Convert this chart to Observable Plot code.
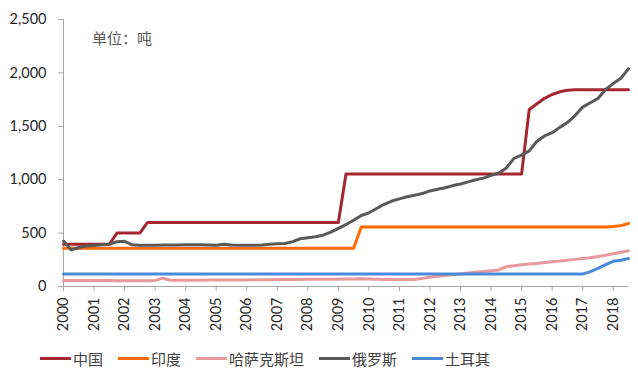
<!DOCTYPE html>
<html>
<head>
<meta charset="utf-8">
<script src="https://cdn.jsdelivr.net/npm/d3@7"></script>
<script src="https://cdn.jsdelivr.net/npm/@observablehq/plot@0.6"></script>
<style>
  body { margin: 0; background: #fff; width: 638px; height: 376px; position: relative; overflow: hidden; font-family: Lato, "Noto Sans CJK SC", sans-serif; }
  #chart { position: absolute; left: 0; top: 0; }
  #unit { position: absolute; left: 92px; top: 27px; font-family: "Noto Sans CJK SC", sans-serif; font-size: 15px; color: #595959; }
  #legend { position: absolute; left: 40px; top: 348px; display: flex; align-items: center; font-family: "Noto Sans CJK SC", sans-serif; font-size: 15px; color: #404040; }
  .item { display: flex; align-items: center; margin-right: 15px; }
  .sw { display: inline-block; width: 31px; height: 3px; margin-right: 2px; }
</style>
</head>
<body>
<div id="chart"></div>
<div id="unit">单位：吨</div>
<div id="legend"></div>
<script>
const quarters = [
  2000, 2000.25, 2000.5, 2000.75, 2001, 2001.25, 2001.5, 2001.75,
  2002, 2002.25, 2002.5, 2002.75, 2003, 2003.25, 2003.5, 2003.75,
  2004, 2004.25, 2004.5, 2004.75, 2005, 2005.25, 2005.5, 2005.75,
  2006, 2006.25, 2006.5, 2006.75, 2007, 2007.25, 2007.5, 2007.75,
  2008, 2008.25, 2008.5, 2008.75, 2009, 2009.25, 2009.5, 2009.75,
  2010, 2010.25, 2010.5, 2010.75, 2011, 2011.25, 2011.5, 2011.75,
  2012, 2012.25, 2012.5, 2012.75, 2013, 2013.25, 2013.5, 2013.75,
  2014, 2014.25, 2014.5, 2014.75, 2015, 2015.25, 2015.5, 2015.75,
  2016, 2016.25, 2016.5, 2016.75, 2017, 2017.25, 2017.5, 2017.75,
  2018, 2018.25, 2018.5
];
const countries = ["中国", "印度", "哈萨克斯坦", "俄罗斯", "土耳其"];
const colors = ["#A6262F", "#FF6A00", "#E8999B", "#595959", "#4A8AD8"];

const china = [
  395, 395, 395, 395, 395, 395, 395, 500,
  500, 500, 500, 600, 600, 600, 600, 600,
  600, 600, 600, 600, 600, 600, 600, 600,
  600, 600, 600, 600, 600, 600, 600, 600,
  600, 600, 600, 600, 600, 1054, 1054, 1054,
  1054, 1054, 1054, 1054, 1054, 1054, 1054, 1054,
  1054, 1054, 1054, 1054, 1054, 1054, 1054, 1054,
  1054, 1054, 1054, 1054, 1054, 1658, 1711, 1762,
  1798, 1823, 1838, 1843, 1843, 1843, 1843, 1843,
  1843, 1843, 1843
];
const india = [
  358, 358, 358, 358, 358, 358, 358, 358,
  358, 358, 358, 358, 358, 358, 358, 358,
  358, 358, 358, 358, 358, 358, 358, 358,
  358, 358, 358, 358, 358, 358, 358, 358,
  358, 358, 358, 358, 358, 358, 358, 558,
  558, 558, 558, 558, 558, 558, 558, 558,
  558, 558, 558, 558, 558, 558, 558, 558,
  558, 558, 558, 558, 558, 558, 558, 558,
  558, 558, 558, 558, 558, 558, 558, 558,
  562, 570, 590
];
const kazakhstan = [
  56, 56, 56, 56, 56, 56, 56, 55,
  55, 55, 55, 55, 56, 78, 58, 58,
  58, 59, 59, 60, 60, 61, 61, 62,
  62, 64, 64, 63, 65, 66, 66, 65,
  67, 67, 68, 68, 69, 70, 71, 72,
  70, 67, 65, 65, 64, 65, 66, 76,
  87, 95, 102, 110, 118, 126, 134, 140,
  148, 155, 186, 195, 203, 210, 216, 224,
  232, 238, 246, 254, 262, 270, 280, 292,
  306, 320, 335
];
const russia = [
  425, 343, 365, 380, 385, 390, 395, 420,
  423, 390, 387, 387, 387, 388, 388, 389,
  390, 390, 390, 389, 386, 395, 388, 386,
  387, 387, 388, 395, 400, 402, 420, 447,
  457, 465, 480, 510, 545, 580, 620, 665,
  690, 730, 770, 800, 820, 840, 855, 870,
  895, 910, 925, 945, 960, 980, 1000, 1015,
  1040, 1060, 1110, 1200, 1230, 1270, 1360, 1410,
  1440, 1490, 1535, 1600, 1680, 1720, 1760, 1845,
  1900, 1950, 2040
];
const turkey = [
  116, 116, 116, 116, 116, 116, 116, 116,
  116, 116, 116, 116, 116, 116, 116, 116,
  116, 116, 116, 116, 116, 116, 116, 116,
  116, 116, 116, 116, 116, 116, 116, 116,
  116, 116, 116, 116, 116, 116, 116, 116,
  116, 116, 116, 116, 116, 116, 116, 116,
  116, 116, 116, 116, 116, 116, 116, 116,
  116, 116, 116, 116, 116, 116, 116, 116,
  116, 116, 116, 116, 116, 140, 170, 205,
  236, 245, 262
];
const yTicks = [0, 500, 1000, 1500, 2000, 2500];
const xTicks = [2000, 2001, 2002, 2003, 2004, 2005, 2006, 2007, 2008, 2009, 2010, 2011, 2012, 2013, 2014, 2015, 2016, 2017, 2018];

const seriesList = [china, india, kazakhstan, russia, turkey];
const rows = seriesList.flatMap((s, k) => s.map((v, i) => ({country: countries[k], t: quarters[i], v})));

const chart = Plot.plot({
  width: 638,
  height: 340,
  marginTop: 19,
  marginBottom: 54,
  marginLeft: 63,
  marginRight: 10,
  style: {fontFamily: "Lato, sans-serif", color: "#262626", background: "#fff"},
  x: {domain: [2000, 2018.5], label: null},
  y: {domain: [0, 2500], label: null},
  color: {domain: countries, range: colors},
  marks: [
    Plot.axisY({ticks: yTicks, tickFormat: d3.format(","), tickSize: 5, tickPadding: 12, stroke: "#a6a6a6", fontSize: 14.5, label: null}),
    Plot.axisX({ticks: xTicks, tickFormat: d => String(d), tickRotate: -90, tickSize: 5, tickPadding: 6, stroke: "#a6a6a6", fontSize: 14.5, label: null}),
    Plot.ruleX([2000], {stroke: "#a6a6a6"}),
    Plot.ruleY([0], {stroke: "#a6a6a6"}),
    Plot.line(rows, {x: "t", y: "v", z: "country", stroke: "country", strokeWidth: 3, curve: "linear"})
  ]
});
document.getElementById("chart").appendChild(chart);

const legend = document.getElementById("legend");
countries.forEach((c, k) => {
  const item = document.createElement("div");
  item.className = "item";
  const sw = document.createElement("span");
  sw.className = "sw";
  sw.style.background = colors[k];
  const tx = document.createElement("span");
  tx.textContent = c;
  item.appendChild(sw);
  item.appendChild(tx);
  legend.appendChild(item);
});
</script>
</body>
</html>
